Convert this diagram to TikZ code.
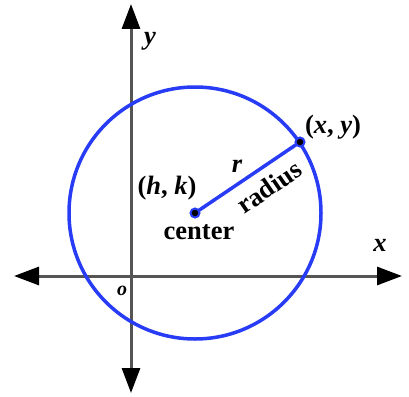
\documentclass[tikz,border=0pt]{standalone}
\usepackage{fontspec}
\setmainfont{Liberation Serif}
\usetikzlibrary{arrows.meta}
\definecolor{circblue}{RGB}{40,60,245}
\definecolor{axisgray}{RGB}{85,85,85}
\begin{document}
\begin{tikzpicture}[x=1pt,y=-1pt,
  axis/.style={line width=3pt,draw=axisgray,{Triangle[length=25pt,width=18pt,black]}-{Triangle[length=25pt,width=18pt,black]}},
  circ/.style={line width=3.5pt,draw=circblue},
  dot/.style={circle,fill=black,draw=circblue,line width=2pt,inner sep=0pt,minimum size=9pt},
  lab/.style={font=\fontsize{26.5}{30}\selectfont\bfseries,inner sep=0pt}]
\useasboundingbox (0,0) rectangle (409,396);
\coordinate (L) at (14,276);
\coordinate (R) at (402,276);
\coordinate (T) at (131,4);
\coordinate (B) at (131,393);
\coordinate (C) at (195,213);
\coordinate (P) at (300,142);
\draw[axis] (L) -- (R);
\draw[axis] (B) -- (T);
\draw[circ] (C) circle[radius=126];
\draw[circ] (C) -- (P);
\node[dot] (c) at (C) {};
\node[dot] (p) at (P) {};
\node[lab] (hk) at (167,188) {(\textit{h}, \textit{k})};
\node[lab] (cen) at (199,232) {center};
\node[lab] (xy) at (333,127) {(\textit{x}, \textit{y})};
\node[lab] (r) at (237,166) {\textit{r}};
\node[lab,rotate=34.3] (rad) at (269,187) {radius};
\node[lab] (xl) at (380,245) {\textit{x}};
\node[lab] (yl) at (150,41) {\textit{y}};
\node[lab,font=\fontsize{20}{24}\selectfont\bfseries] (ol) at (122,291) {\textit{o}};
\end{tikzpicture}
\end{document}
